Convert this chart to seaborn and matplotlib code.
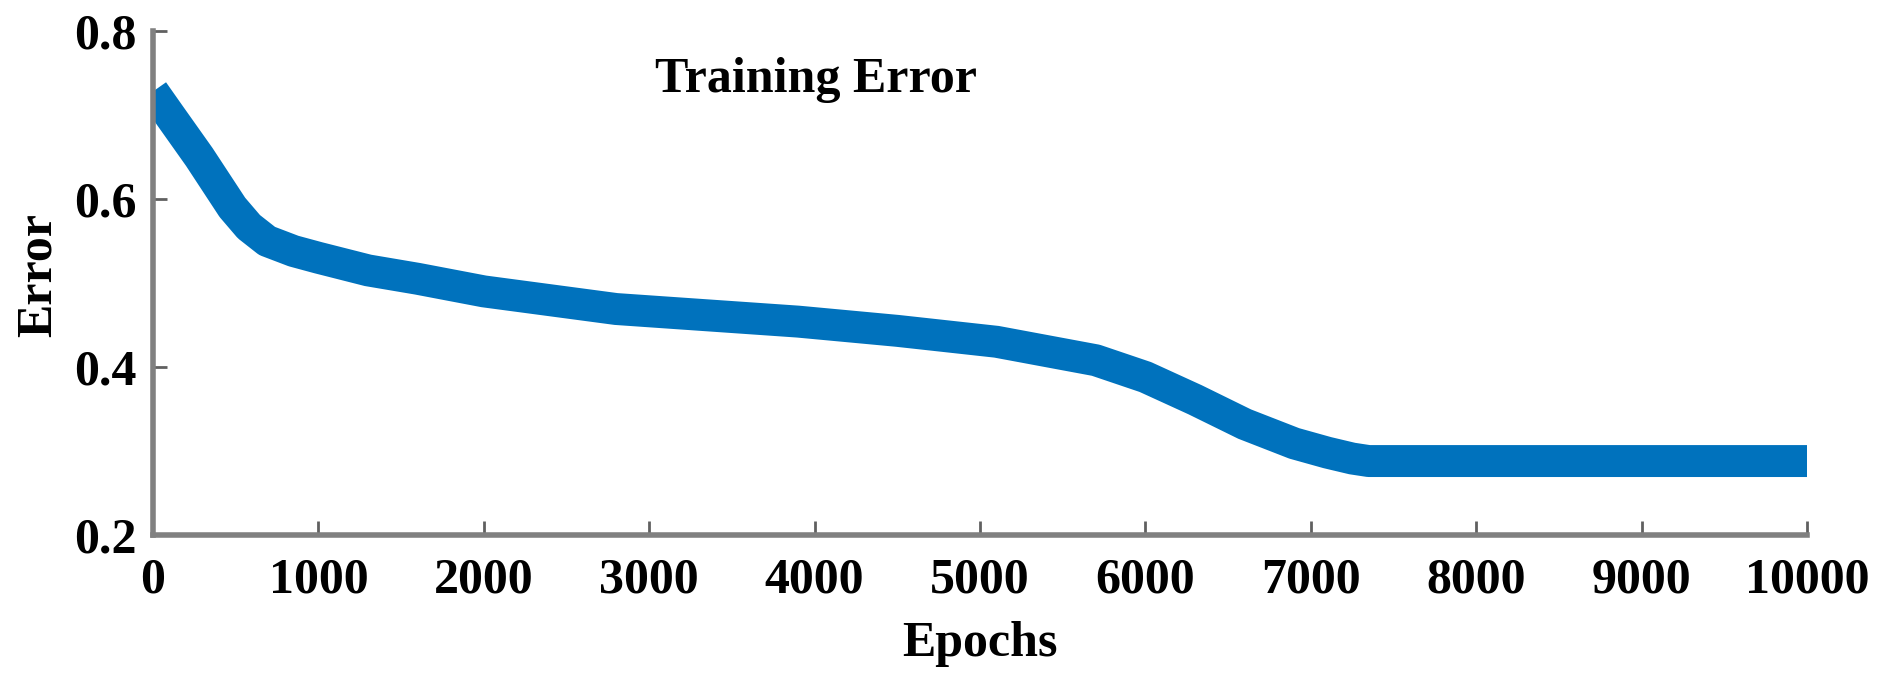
import matplotlib
matplotlib.use('Agg')
import matplotlib.pyplot as plt
import seaborn as sns
import pandas as pd

# training curve
epochs = [0, 100, 280, 480, 580, 690, 850, 1000, 1300, 1600, 2000, 2800,
          3900, 4500, 5100, 5700, 6000, 6300, 6600, 6900, 7100, 7250, 7350,
          8000, 9000, 10000]
error = [0.728, 0.70, 0.65, 0.59, 0.567, 0.55, 0.538, 0.53, 0.515, 0.505,
         0.49, 0.469, 0.454, 0.443, 0.43, 0.408, 0.388, 0.361, 0.332, 0.309,
         0.298, 0.291, 0.288, 0.288, 0.288, 0.288]
x_ticks = [0, 1000, 2000, 3000, 4000, 5000, 6000, 7000, 8000, 9000, 10000]
y_ticks = [0.2, 0.4, 0.6, 0.8]

sns.set_style('ticks')
plt.rcParams['font.family'] = ['Liberation Serif', 'DejaVu Serif']
plt.rcParams['font.weight'] = 'bold'
plt.rcParams['text.color'] = 'black'
plt.rcParams['axes.labelcolor'] = 'black'

df = pd.DataFrame({'Epochs': epochs, 'Error': error})

fig = plt.figure(figsize=(18.91, 6.87), dpi=100)
ax = fig.add_axes([0.0809, 0.2213, 0.8747, 0.7336])

sns.lineplot(data=df, x='Epochs', y='Error', ax=ax, color='#0072BD',
             linewidth=23, solid_capstyle='butt', solid_joinstyle='round')

ax.set_xlim(0, 10000)
ax.set_ylim(0.2, 0.8)
ax.set_xticks(x_ticks)
ax.set_yticks(y_ticks)
ax.set_xticklabels([str(t) for t in x_ticks])
ax.set_yticklabels([f'{t:.1f}' for t in y_ticks])

for side in ['top', 'right']:
    ax.spines[side].set_visible(False)
for side in ['left', 'bottom']:
    ax.spines[side].set_color('#808080')
    ax.spines[side].set_linewidth(4)

ax.tick_params(axis='both', direction='in', length=10, width=2, color='#606060',
               labelsize=36, labelcolor='black')
ax.tick_params(axis='x', pad=16)
ax.tick_params(axis='y', pad=12)

ax.set_xlabel('Epochs', fontsize=36, fontweight='bold', labelpad=13)
ax.set_ylabel('Error', fontsize=36, fontweight='bold')
ax.yaxis.set_label_coords(-0.055, 0.516)

ax.text(0.401, 0.879, 'Training Error', transform=ax.transAxes,
        ha='center', va='baseline', fontsize=36, fontweight='bold', color='black')

fig.savefig('out.png', dpi=100)
